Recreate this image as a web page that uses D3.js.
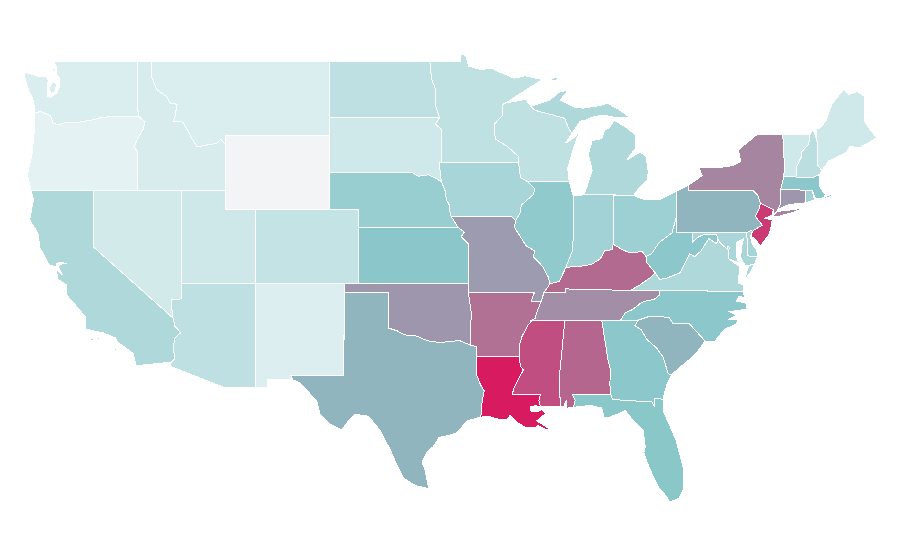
<!DOCTYPE html>
<html>
<head>
<meta charset="utf-8">
<script src="https://d3js.org/d3.v7.min.js"></script>
<style>
  html, body { margin: 0; background: #fff; }
  .state { stroke: #fff; stroke-width: 1; fill-rule: evenodd; shape-rendering: crispEdges; }
</style>
</head>
<body>
<svg id="map" width="900" height="560"></svg>
<script>
// state outlines, [lon, lat] rings
var WA = [[[-117.04,49],[-122.65,49],[-122.47,48.6],[-122.5,48.3],[-122.25,48.05],[-122.25,47.7],[-122.45,47.27],[-122.9,47.03],[-123.07,47.07],[-123.12,47.45],[-123.05,47.95],[-123.15,48.15],[-123.7,48.17],[-124.2,48.3],[-124.65,48.38],[-124.6,47.95],[-124.35,47.4],[-124.1,46.95],[-124.0,46.6],[-123.95,46.2],[-123.55,46.27],[-123.2,46.15],[-122.9,46.05],[-122.8,45.85],[-122.75,45.65],[-122.3,45.55],[-121.9,45.68],[-121.2,45.65],[-120.65,45.74],[-120.2,45.78],[-119.6,45.92],[-119,45.98],[-116.92,46],[-116.92,46.17],[-117.04,46.42]],
  [[-122.75,47.9],[-122.45,47.75],[-122.6,47.35],[-122.85,47.22],[-122.98,47.5]],[[-122.75,48.6],[-122.6,48.55],[-122.65,48.4],[-122.8,48.45]]];
var OR = [[[-124.2,42],[-124.47,42.84],[-124.15,43.9],[-124.05,44.7],[-123.95,45.5],[-123.95,46.2],[-123.55,46.27],[-123.2,46.15],[-122.9,46.05],[-122.8,45.85],[-122.75,45.65],[-122.3,45.55],[-121.9,45.68],[-121.2,45.65],[-120.65,45.74],[-120.2,45.78],[-119.6,45.92],[-119,45.98],[-116.92,46],[-116.5,45.72],[-116.6,45.35],[-117,44.8],[-117.24,44.35],[-117,44.1],[-117.03,42]]];
var CA = [[[-124.2,42],[-120,42],[-120,38.96],[-114.6,35.1],[-114.47,34.65],[-114.08,34.32],[-114.47,34.02],[-114.6,33.5],[-114.47,32.9],[-114.72,32.72],[-117.1,32.53],[-117.3,33.2],[-118.35,33.8],[-118.5,34.03],[-119.3,34.3],[-120.5,34.5],[-120.55,35.2],[-121.8,36.35],[-121.8,36.9],[-122.4,37.2],[-122.5,37.75],[-122.1,37.45],[-122.35,37.85],[-122.25,38.02],[-121.8,38.05],[-122.25,38.12],[-122.5,38.05],[-122.5,37.85],[-123,38.0],[-123.6,38.9],[-123.75,39.7],[-124.3,40.4],[-124.05,41.5]],
  [[-119.9,34.0],[-119.55,34.05],[-119.55,33.97],[-119.9,33.95]],[[-120.2,34.0],[-120.0,34.03],[-120.0,33.9],[-120.2,33.93]],[[-118.6,33.48],[-118.35,33.4],[-118.4,33.32],[-118.6,33.42]]];
var NV = [[[-120,42],[-114.04,42],[-114.04,36.15],[-114.35,36.1],[-114.72,36.1],[-114.7,35.7],[-114.6,35.1],[-120,38.96]]];
var ID = [[[-117.04,49],[-116.05,49],[-116.03,48.1],[-115.7,47.45],[-115.03,47.07],[-114.8,46.73],[-114.33,46.66],[-114.47,46],[-114.6,45.72],[-113.93,45.7],[-113.34,44.83],[-112.98,44.36],[-111.65,44.55],[-111.37,44.76],[-111.05,44.47],[-111.05,42],[-117.03,42],[-117,44.1],[-117.24,44.35],[-117,44.8],[-116.6,45.35],[-116.5,45.72],[-116.92,46],[-116.92,46.17],[-117.04,46.42]]];
var MT = [[[-116.05,49],[-104.05,49],[-104.05,45],[-111.05,45],[-111.05,44.47],[-111.37,44.76],[-111.65,44.55],[-112.98,44.36],[-113.34,44.83],[-113.93,45.7],[-114.6,45.72],[-114.47,46],[-114.33,46.66],[-114.8,46.73],[-115.03,47.07],[-115.7,47.45],[-116.03,48.1]]];
var WY = [[[-111.05,45],[-104.05,45],[-104.05,41],[-111.05,41]]];
var UT = [[[-114.04,42],[-111.05,42],[-111.05,41],[-109.05,41],[-109.05,37],[-114.04,37]]];
var CO = [[[-109.05,41],[-102.05,41],[-102.05,37],[-109.05,37]]];
var AZ = [[[-114.04,37],[-109.05,37],[-109.05,31.33],[-111.07,31.33],[-114.8,32.5],[-114.72,32.72],[-114.47,32.9],[-114.6,33.5],[-114.47,34.02],[-114.08,34.32],[-114.47,34.65],[-114.6,35.1],[-114.7,35.7],[-114.72,36.1],[-114.35,36.1],[-114.04,36.15]]];
var NM = [[[-109.05,37],[-103,37],[-103.06,32],[-106.62,32],[-106.53,31.78],[-108.22,31.78],[-108.22,31.33],[-109.05,31.33]]];
var ND = [[[-104.05,49],[-97.23,49],[-97.1,48],[-96.85,47.5],[-96.85,46.6],[-96.56,45.94],[-104.05,45.94]]];
var SD = [[[-104.05,45.94],[-96.56,45.94],[-96.85,45.6],[-96.45,45.3],[-96.45,43.5],[-96.6,43.5],[-96.45,42.49],[-97.3,42.85],[-98,42.77],[-98.5,43],[-104.05,43]]];
var NE = [[[-104.05,43],[-98.5,43],[-98,42.77],[-97.3,42.85],[-96.45,42.49],[-96.2,42],[-96.1,41.5],[-95.9,41.2],[-95.85,40.7],[-95.31,40],[-102.05,40],[-102.05,41],[-104.05,41]]];
var KS = [[[-102.05,40],[-95.31,40],[-94.9,39.75],[-95.1,39.5],[-94.61,39.11],[-94.62,37],[-102.05,37]]];
var OK = [[[-103,37],[-94.62,37],[-94.62,36.5],[-94.43,35.4],[-94.48,33.64],[-95.2,33.88],[-95.8,33.85],[-96.5,33.78],[-97.2,33.85],[-97.7,33.98],[-98.1,34.13],[-98.95,34.2],[-99.4,34.4],[-100,34.56],[-100,36.5],[-103,36.5]]];
var TX = [[[-106.62,32],[-103.06,32],[-103,36.5],[-100,36.5],[-100,34.56],[-99.4,34.4],[-98.95,34.2],[-98.1,34.13],[-97.7,33.98],[-97.2,33.85],[-96.5,33.78],[-95.8,33.85],[-95.2,33.88],[-94.48,33.64],[-94.04,33.55],[-94.04,31.99],[-93.8,31.5],[-93.55,31.18],[-93.7,30.5],[-93.72,30.05],[-93.8,29.75],[-94.7,29.55],[-95.4,28.9],[-96,28.75],[-96.6,28.65],[-97,28.15],[-97.4,27.9],[-97.75,27.3],[-97.55,26.9],[-97.4,26.3],[-97.3,25.88],[-98.2,26.05],[-99,26.45],[-99.45,27.15],[-99.9,27.97],[-100.6,29.05],[-101,29.43],[-101.4,29.8],[-102.3,29.9],[-102.85,29.43],[-103.2,29.05],[-103.97,29.37],[-104.65,29.87],[-104.87,30.6],[-106,31.6],[-106.53,31.78]]];
var MN = [[[-97.23,49],[-95.15,49],[-95.15,49.38],[-94.8,49.3],[-94.6,48.72],[-93.8,48.55],[-93,48.6],[-92.5,48.4],[-91.5,48.07],[-90.8,48.2],[-89.6,48],[-90.8,47.4],[-92.05,46.75],[-92.3,46.65],[-92.29,46.07],[-92.85,45.6],[-92.88,45.1],[-92.75,44.75],[-92,44.4],[-91.25,43.85],[-91.22,43.5],[-96.45,43.5],[-96.45,45.3],[-96.85,45.6],[-96.56,45.94],[-96.85,46.6],[-96.85,47.5],[-97.1,48]]];
var IA = [[[-96.6,43.5],[-91.22,43.5],[-91.1,42.7],[-90.65,42.5],[-90.15,42.1],[-90.2,41.8],[-91.05,41.2],[-91.1,40.8],[-91.42,40.38],[-91.72,40.6],[-95.77,40.58],[-95.85,40.7],[-95.9,41.2],[-96.1,41.5],[-96.2,42],[-96.45,42.49]]];
var MO = [[[-95.77,40.58],[-91.72,40.6],[-91.42,40.38],[-91.5,40],[-90.7,39],[-90.15,38.75],[-90.2,38.4],[-89.6,37.9],[-89.2,37.3],[-89.1,36.95],[-89.5,36.5],[-89.7,36],[-90.37,36],[-90.15,36.5],[-94.62,36.5],[-94.62,37],[-94.61,39.11],[-95.1,39.5],[-94.9,39.75],[-95.31,40]]];
var AR = [[[-94.62,36.5],[-90.15,36.5],[-90.37,36],[-89.7,36],[-89.95,35.5],[-90.1,35.1],[-90.3,35],[-90.6,34.7],[-91,34.1],[-91.15,33.7],[-91.17,33],[-94.04,33.02],[-94.04,33.55],[-94.48,33.64],[-94.43,35.4]]];
var LA = [[[-94.04,33.02],[-91.17,33],[-91.1,32.5],[-90.9,32.3],[-91.1,32],[-91.5,31.4],[-91.65,31],[-89.73,31],[-89.85,30.65],[-89.75,30.3],[-90.1,30.37],[-90.45,30.3],[-90.4,30.08],[-90.05,30.03],[-89.65,30.15],[-89.4,29.95],[-89.75,29.7],[-90,29.55],[-89.2,29.15],[-89.3,29.05],[-89.9,29.3],[-90.1,29.2],[-90.77,29.2],[-91.3,29.45],[-91.8,29.85],[-92,29.6],[-92.45,29.6],[-93.2,29.78],[-93.8,29.75],[-93.72,30.05],[-93.7,30.5],[-93.55,31.18],[-93.8,31.5],[-94.04,31.99]]];
var MS = [[[-91.17,33],[-91.15,33.7],[-91,34.1],[-90.6,34.7],[-90.3,35],[-88.2,35],[-88.1,34.9],[-88.47,31.9],[-88.4,30.35],[-89.3,30.33],[-89.75,30.3],[-89.85,30.65],[-89.73,31],[-91.65,31],[-91.5,31.4],[-91.1,32],[-90.9,32.3],[-91.1,32.5]]];
var AL = [[[-88.2,35],[-85.6,35],[-85.18,32.87],[-85,32.3],[-85.05,31.55],[-85,31],[-87.6,31],[-87.4,30.65],[-87.52,30.28],[-88,30.23],[-88,30.65],[-88.15,30.35],[-88.4,30.35],[-88.47,31.9],[-88.1,34.9]]];
var GA = [[[-85.6,35],[-83.11,35],[-83.35,34.7],[-82.9,34.45],[-82.55,33.95],[-81.9,33.5],[-81.45,33],[-81.1,32.1],[-80.87,32.03],[-81.2,31.5],[-81.45,30.72],[-82,30.75],[-82.05,30.36],[-82.2,30.57],[-84.86,30.7],[-85,31],[-85.05,31.55],[-85,32.3],[-85.18,32.87]]];
var FL = [[[-87.6,31],[-85,31],[-84.86,30.7],[-82.2,30.57],[-82.05,30.36],[-82,30.75],[-81.45,30.72],[-81.45,30.1],[-80.95,29.2],[-80.55,28.45],[-80.05,26.9],[-80.1,25.8],[-80.4,25.35],[-81,25.15],[-81.2,25.45],[-81.75,25.95],[-82.1,26.5],[-82.45,27.15],[-82.75,27.85],[-82.65,28.15],[-82.8,29.05],[-83.45,29.55],[-84,30.1],[-84.4,29.95],[-85.24,29.7],[-85.45,29.75],[-85.6,30.25],[-86.4,30.38],[-87.52,30.28],[-87.4,30.65]]];
var SC = [[[-83.11,35],[-82.35,35.2],[-81.05,35.15],[-80.8,34.82],[-79.67,34.8],[-78.6,33.86],[-79.2,33.2],[-79.9,32.7],[-80.45,32.35],[-80.87,32.03],[-81.1,32.1],[-81.45,33],[-81.9,33.5],[-82.55,33.95],[-82.9,34.45],[-83.35,34.7]]];
var NC = [[[-84.32,35],[-83.11,35],[-82.35,35.2],[-81.05,35.15],[-80.8,34.82],[-79.67,34.8],[-78.6,33.86],[-77.95,33.85],[-77.3,34.5],[-76.55,34.75],[-76.35,35],[-77,35.05],[-76.5,35.25],[-76.95,35.45],[-76.1,35.55],[-75.8,35.6],[-75.85,35.95],[-76.5,36],[-76.3,36.3],[-75.95,36.2],[-76,36.55],[-81.68,36.59],[-81.7,36.35],[-82.05,36.12],[-82.6,36.03],[-82.9,35.95],[-83.5,35.57],[-84,35.4]]];
var TN = [[[-90.3,35],[-84.32,35],[-84,35.4],[-83.5,35.57],[-82.9,35.95],[-82.6,36.03],[-82.05,36.12],[-81.7,36.35],[-81.68,36.59],[-83.68,36.6],[-86.5,36.65],[-88.07,36.68],[-88.07,36.5],[-89.5,36.5],[-89.7,36],[-89.95,35.5],[-90.1,35.1]]];
var KY = [[[-89.5,36.5],[-88.07,36.5],[-88.07,36.68],[-86.5,36.65],[-83.68,36.6],[-83.1,36.85],[-82.3,37.3],[-81.97,37.54],[-82.6,38.15],[-82.6,38.42],[-82.85,38.7],[-83.7,38.63],[-84.2,38.8],[-84.82,39.1],[-84.9,38.8],[-85.4,38.73],[-85.7,38.3],[-86.3,38],[-87.05,37.9],[-87.6,37.9],[-88.05,37.8],[-88.45,37.1],[-89.1,36.95]]];
var IL = [[[-90.65,42.5],[-87.8,42.5],[-87.53,41.72],[-87.53,39.35],[-87.6,38.7],[-88.05,37.8],[-88.45,37.1],[-89.1,36.95],[-89.2,37.3],[-89.6,37.9],[-90.2,38.4],[-90.15,38.75],[-90.7,39],[-91.5,40],[-91.42,40.38],[-91.1,40.8],[-91.05,41.2],[-90.2,41.8],[-90.15,42.1]]];
var IN = [[[-87.53,41.72],[-87.2,41.75],[-86.82,41.76],[-84.8,41.76],[-84.82,39.1],[-84.9,38.8],[-85.4,38.73],[-85.7,38.3],[-86.3,38],[-87.05,37.9],[-87.6,37.9],[-88.05,37.8],[-87.6,38.7],[-87.53,39.35]]];
var OH = [[[-84.8,41.72],[-83.45,41.73],[-82.7,41.5],[-81.7,41.5],[-80.52,41.98],[-80.52,40.64],[-80.85,39.7],[-81.7,39.2],[-82.2,38.6],[-82.6,38.42],[-82.85,38.7],[-83.7,38.63],[-84.2,38.8],[-84.82,39.1]]];
var MI = [[[-90.4,46.55],[-89.1,46.9],[-88.5,47.3],[-87.85,47.45],[-88.4,46.9],[-87.4,46.5],[-86.85,46.45],[-85.7,46.6],[-85.2,46.72],[-84.6,46.45],[-84.2,46.25],[-83.75,45.97],[-84.7,45.95],[-85.5,46.08],[-86.3,45.95],[-86.7,45.8],[-87.05,45.75],[-87.6,45.1],[-87.85,45.35],[-88.1,45.9],[-89,46.1],[-90.1,46.33]],
  [[-86.82,41.76],[-84.8,41.76],[-83.45,41.73],[-83.15,42.05],[-82.5,42.6],[-82.45,43],[-82.6,43.85],[-83,44.07],[-83.9,43.65],[-83.3,44.3],[-83.3,45],[-84.1,45.5],[-84.75,45.78],[-85.1,45.4],[-85.4,45.25],[-85.6,44.8],[-86.25,44.7],[-86.5,43.95],[-86.25,43.1],[-86.6,42.2]],
  [[-89.1,48],[-88.55,48.15],[-88.7,47.93]]];
var WI = [[[-92.3,46.65],[-92.05,46.75],[-91.2,46.85],[-90.75,46.95],[-90.4,46.55],[-90.1,46.33],[-89,46.1],[-88.1,45.9],[-87.85,45.35],[-87.6,45.1],[-88.05,44.55],[-87.4,44.9],[-87.05,45.3],[-87.5,44.3],[-87.9,43.2],[-87.8,42.5],[-90.65,42.5],[-91.1,42.7],[-91.22,43.5],[-91.25,43.85],[-92,44.4],[-92.75,44.75],[-92.88,45.1],[-92.85,45.6],[-92.29,46.07]]];
var WV = [[[-80.52,40.64],[-80.52,39.72],[-79.48,39.72],[-79.48,39.2],[-79.1,39.47],[-78.75,39.6],[-78.35,39.65],[-77.83,39.6],[-77.72,39.32],[-77.83,39.13],[-78.35,39.4],[-78.87,38.75],[-79.3,38.42],[-79.65,38.58],[-80.3,37.55],[-81.25,37.25],[-81.68,37.2],[-81.97,37.54],[-82.6,38.15],[-82.6,38.42],[-82.2,38.6],[-81.7,39.2],[-80.85,39.7]]];
var VA = [[[-83.68,36.6],[-81.68,36.59],[-76,36.55],[-76,36.9],[-76.35,37],[-76.3,37.55],[-76.3,37.9],[-77,38.3],[-77.05,38.8],[-77.5,39.1],[-77.72,39.32],[-77.83,39.13],[-78.35,39.4],[-78.87,38.75],[-79.3,38.42],[-79.65,38.58],[-80.3,37.55],[-81.25,37.25],[-81.68,37.2],[-81.97,37.54],[-82.3,37.3],[-83.1,36.85]],
  [[-75.95,37.15],[-75.65,37.95],[-75.25,38.03],[-75.6,37.5]]];
var MD = [[[-79.48,39.72],[-75.79,39.72],[-75.7,38.46],[-75.05,38.45],[-75.25,38.03],[-75.65,37.95],[-75.9,37.95],[-76.2,38.35],[-76.15,38.9],[-76,39.4],[-76.45,39.2],[-76.5,38.5],[-76.35,38.1],[-77,38.3],[-77.05,38.8],[-77.5,39.1],[-77.72,39.32],[-77.83,39.6],[-78.35,39.65],[-78.75,39.6],[-79.1,39.47],[-79.48,39.2]]];
var DE = [[[-75.79,39.72],[-75.5,39.83],[-75.4,39.8],[-75.55,39.5],[-75.4,39.1],[-75.1,38.75],[-75.05,38.45],[-75.7,38.46]]];
var DC = [[[-77.12,38.93],[-77.04,39],[-76.91,38.9],[-77.04,38.79]]];
var PA = [[[-80.52,41.98],[-79.76,42.27],[-79.76,42],[-75.35,42],[-75.05,41.75],[-74.86,41.32],[-74.98,40.95],[-75.2,40.6],[-74.74,40.13],[-75.4,39.8],[-75.5,39.83],[-75.79,39.72],[-80.52,39.72]]];
var NJ = [[[-74.86,41.32],[-73.98,40.95],[-74.07,40.68],[-74.55,40.5],[-74.07,40.4],[-74.15,40],[-74.3,39.6],[-74.86,39],[-75.1,39.25],[-75.5,39.55],[-75.4,39.8],[-74.74,40.13],[-75.2,40.6],[-74.98,40.95]]];
var NY = [[[-79.76,42],[-75.35,42],[-75.05,41.75],[-74.86,41.32],[-73.98,40.95],[-74.02,40.72],[-73.75,40.85],[-73.65,41],[-73.5,41.3],[-73.5,42.05],[-73.27,42.75],[-73.25,43.55],[-73.35,45.01],[-75.13,45],[-76.35,44.2],[-76.2,43.55],[-76.7,43.35],[-77.6,43.25],[-79.05,43.27],[-78.8,42.8],[-79.76,42.27]],
  [[-74.03,40.6],[-73.75,40.58],[-72.7,40.8],[-71.9,41.07],[-72.6,40.97],[-73.7,40.87]]];
var CT = [[[-73.5,42.05],[-71.8,42.02],[-71.85,41.32],[-72.9,41.25],[-73.65,41],[-73.5,41.3]]];
var RI = [[[-71.8,42.02],[-71.38,42.02],[-71.2,41.5],[-71.85,41.32]]];
var MA = [[[-73.5,42.05],[-73.27,42.75],[-71.3,42.7],[-70.82,42.88],[-70.9,42.3],[-70.65,41.95],[-70.45,41.78],[-70.6,41.6],[-71.1,41.55],[-71.38,42.02],[-71.8,42.02]],
  [[-70.55,41.65],[-70,41.8],[-70,41.72],[-70.5,41.57]]];
var VT = [[[-73.35,45.01],[-71.5,45.01],[-71.6,44.5],[-72.05,44.1],[-72.05,43.9],[-72.4,43.3],[-72.46,42.73],[-73.27,42.75],[-73.25,43.55]]];
var NH = [[[-71.5,45.01],[-71.3,45.3],[-71.03,44.65],[-70.97,43.35],[-70.7,43.07],[-70.82,42.88],[-71.3,42.7],[-72.46,42.73],[-72.4,43.3],[-72.05,43.9],[-72.05,44.1],[-71.6,44.5]]];
var ME = [[[-71.08,45.3],[-70.8,45.4],[-70.4,45.8],[-70.25,46.2],[-70,46.7],[-69.25,47.45],[-68.9,47.2],[-68.3,47.35],[-67.8,47.07],[-67.8,45.7],[-67.45,45.3],[-67,44.85],[-67.6,44.55],[-68.2,44.3],[-68.8,44.4],[-69.05,44.05],[-69.8,43.75],[-70.25,43.6],[-70.7,43.07],[-70.97,43.35],[-71.03,44.65]]];

var stateNames = ["Washington","Oregon","California","Nevada","Idaho","Montana","Wyoming","Utah","Colorado","Arizona","New Mexico","North Dakota","South Dakota","Nebraska","Kansas","Oklahoma","Texas","Minnesota","Iowa","Missouri","Arkansas","Louisiana","Mississippi","Alabama","Georgia","Florida","South Carolina","North Carolina","Tennessee","Kentucky","Illinois","Indiana","Ohio","Michigan","Wisconsin","West Virginia","Virginia","Maryland","Delaware","District of Columbia","Pennsylvania","New Jersey","New York","Connecticut","Rhode Island","Massachusetts","Vermont","New Hampshire","Maine"];
var stateShapes = [WA,OR,CA,NV,ID,MT,WY,UT,CO,AZ,NM,ND,SD,NE,KS,OK,TX,MN,IA,MO,AR,LA,MS,AL,GA,FL,SC,NC,TN,KY,IL,IN,OH,MI,WI,WV,VA,MD,DE,DC,PA,NJ,NY,CT,RI,MA,VT,NH,ME];
// wyoming has no value, it gets the grey
var stateValues = [11.7,7,32,15,12.6,11.7,null,17.3,22,25,10.3,25,17,42,48.6,64,55,24,35,62.5,75,100,85,78,48,49.5,55,48,66,77,46,38,40,32,24,48,32,34,36,34,55,91,69,64,39,48,17,26,17];

var colorStops = ["#f3f9fa", "#88c6c9", "#d81b60"];
var noDataColor = "#f3f4f6";
var color = d3.scaleLinear().domain([0, 50, 100]).range(colorStops);

// the map is a plain lon/lat plot, so two linear scales do the job
var x = d3.scaleLinear().domain([-117.04, -104.05]).range([137, 329]);
var y = d3.scaleLinear().domain([49, 37]).range([61, 283]);

var transform = d3.geoTransform({
  point: function(lon, lat) { this.stream.point(x(lon), y(lat)); }
});
var path = d3.geoPath().projection(transform);

// geojson rings have to end on their first point
function closeRing(ring) {
  return ring.concat([ring[0]]);
}

var features = stateNames.map(function(name, i) {
  return {
    type: "Feature",
    properties: { name: name, value: stateValues[i] },
    geometry: { type: "Polygon", coordinates: stateShapes[i].map(closeRing) }
  };
});

d3.select("#map").selectAll("path")
  .data(features)
  .enter()
  .append("path")
  .attr("class", "state")
  .attr("d", path)
  .attr("fill", function(d) {
    return d.properties.value === null ? noDataColor : color(d.properties.value);
  });
</script>
</body>
</html>
